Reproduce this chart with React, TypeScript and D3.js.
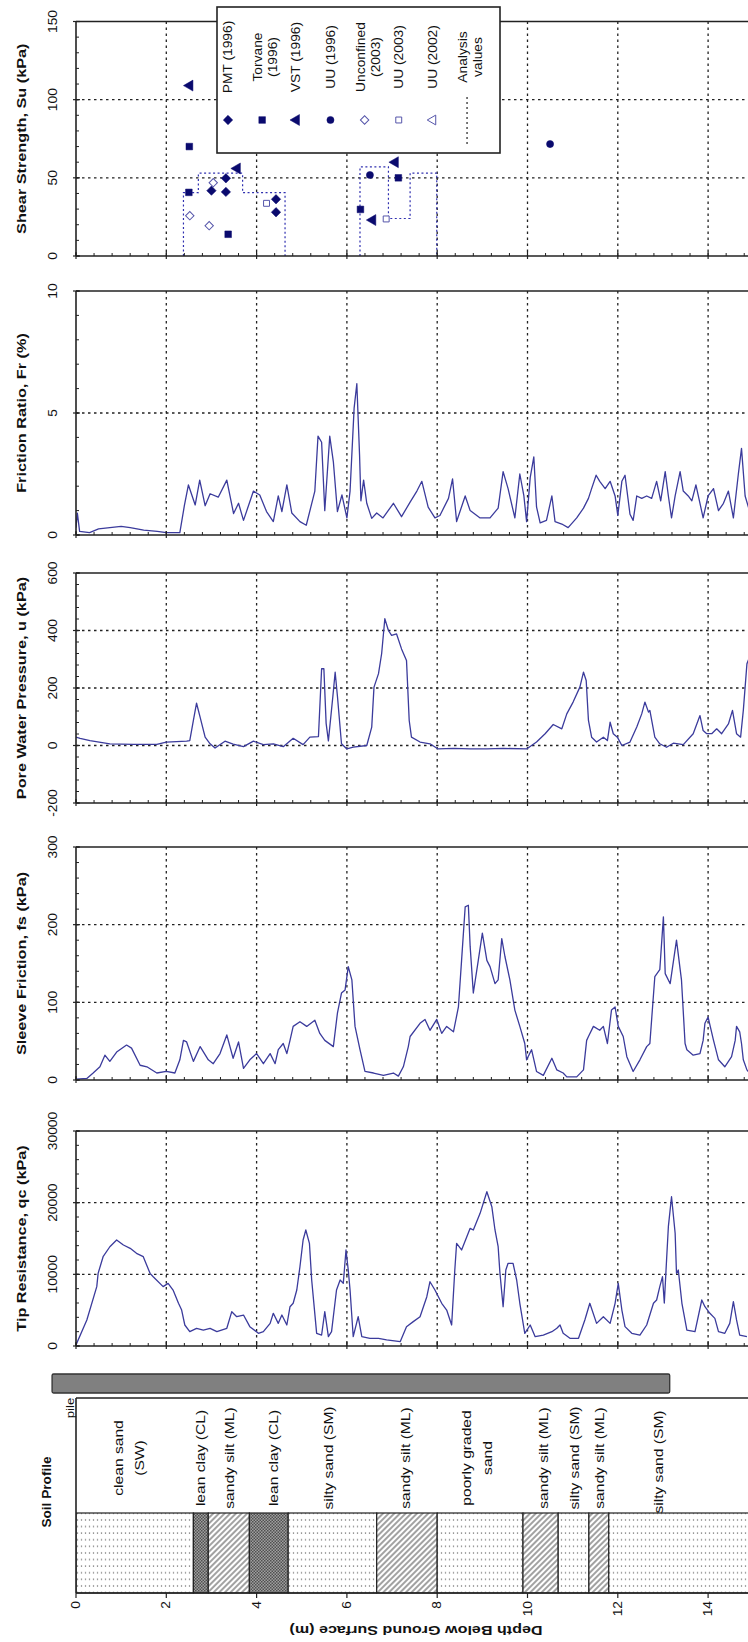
import React from 'react';
import * as d3 from 'd3';

// ---- data ----
const depthTicks = [0, 2, 4, 6, 8, 10, 12, 14];

const frictionRatio: [number, number][] = [
  [0, 0.3], [0.03, 0.9], [0.08, 0.15], [0.3, 0.1], [0.5, 0.25], [0.75, 0.3], [1.0, 0.35], [1.2, 0.3], [1.5, 0.2],
  [1.8, 0.15], [2.0, 0.1], [2.3, 0.1], [2.4, 1.2], [2.49, 2.05], [2.64, 1.23], [2.74, 2.25], [2.86, 1.2], [2.97, 1.69],
  [3.15, 1.55], [3.34, 2.25], [3.49, 0.88], [3.6, 1.3], [3.71, 0.6], [3.93, 1.8], [4.07, 1.64], [4.22, 0.96],
  [4.37, 0.55], [4.48, 1.6], [4.56, 0.96], [4.67, 2.05], [4.78, 0.9], [4.96, 0.55], [5.1, 0.4], [5.29, 1.8],
  [5.36, 4.05], [5.44, 3.8], [5.51, 1.0], [5.62, 4.05], [5.7, 3.0], [5.79, 0.96], [5.89, 1.64], [6.0, 0.7],
  [6.07, 1.8], [6.16, 5.2], [6.22, 6.2], [6.28, 3.3], [6.31, 1.4], [6.37, 2.25], [6.44, 1.3], [6.55, 0.68],
  [6.66, 0.9], [6.8, 0.7], [7.03, 1.3], [7.21, 0.75], [7.4, 1.35], [7.55, 1.8], [7.66, 2.2], [7.8, 1.14],
  [7.95, 0.7], [8.06, 0.8], [8.25, 1.5], [8.34, 2.3], [8.43, 0.55], [8.62, 1.6], [8.73, 1.0], [8.95, 0.7],
  [9.17, 0.7], [9.35, 1.1], [9.46, 2.6], [9.57, 1.9], [9.72, 0.7], [9.83, 2.5], [9.92, 1.6], [9.98, 0.55],
  [10.06, 2.35], [10.14, 3.2], [10.2, 1.15], [10.28, 0.5], [10.42, 0.6], [10.54, 1.6], [10.61, 0.55],
  [10.76, 0.45], [10.9, 0.3], [11.09, 0.7], [11.24, 1.1], [11.35, 1.5], [11.42, 1.9], [11.52, 2.45], [11.6, 2.2],
  [11.72, 1.9], [11.83, 2.2], [11.94, 1.6], [12.0, 0.8], [12.09, 2.2], [12.16, 2.45], [12.27, 0.85], [12.34, 0.6],
  [12.42, 1.6], [12.53, 1.5], [12.64, 1.6], [12.75, 1.5], [12.86, 2.2], [12.95, 1.4], [13.05, 2.6], [13.12, 1.6],
  [13.19, 0.7], [13.27, 1.6], [13.38, 2.6], [13.45, 1.8], [13.56, 1.6], [13.64, 1.4], [13.73, 2.05], [13.82, 1.3],
  [13.89, 0.7], [14.0, 1.6], [14.12, 1.9], [14.23, 1.0], [14.34, 1.3], [14.45, 1.8], [14.56, 0.7], [14.67, 2.5],
  [14.74, 3.55], [14.82, 1.6], [14.9, 1.1],
];

const porePressure: [number, number][] = [
  [0, 29], [0.09, 25], [0.31, 17], [0.75, 6], [1.27, 4], [1.79, 4], [2.0, 12], [2.45, 15], [2.52, 17], [2.6, 87],
  [2.67, 147], [2.75, 98], [2.86, 29], [2.97, 6], [3.08, -9], [3.3, 15], [3.48, 5], [3.71, -4], [3.93, 15], [4.15, 3],
  [4.37, 6], [4.59, -4], [4.81, 25], [5.03, 3], [5.18, 29], [5.37, 31], [5.44, 267], [5.49, 267], [5.54, 77],
  [5.59, 16], [5.69, 172], [5.74, 255], [5.79, 172], [5.88, 6], [6.0, -12], [6.14, -6], [6.44, 0], [6.55, 64],
  [6.6, 203], [6.7, 250], [6.77, 320], [6.84, 441], [6.92, 400], [6.99, 383], [7.1, 388], [7.21, 336], [7.32, 296],
  [7.38, 87], [7.43, 29], [7.62, 12], [7.84, 6], [8.02, -12], [8.36, -10], [8.73, -12], [9.1, -12], [9.46, -10],
  [9.98, -12], [10.2, 12], [10.39, 41], [10.57, 73], [10.76, 58], [10.87, 110], [11.01, 151], [11.16, 203],
  [11.24, 255], [11.3, 226], [11.35, 87], [11.42, 29], [11.53, 12], [11.68, 29], [11.77, 17], [11.83, 81],
  [11.9, 41], [11.99, 29], [12.09, 0], [12.27, 12], [12.42, 64], [12.53, 110], [12.6, 151], [12.68, 116],
  [12.71, 122], [12.82, 29], [12.93, 6], [13.08, -6], [13.23, 8], [13.45, 3], [13.67, 41], [13.82, 104],
  [13.89, 52], [13.97, 41], [14.08, 41], [14.19, 58], [14.3, 41], [14.45, 75], [14.54, 122], [14.63, 41],
  [14.72, 29], [14.78, 122], [14.86, 284], [14.9, 300],
];

const sleeveFriction: [number, number][] = [
  [0, 1], [0.24, 2], [0.38, 9], [0.53, 17], [0.64, 32], [0.75, 24], [0.9, 36], [1.12, 45], [1.23, 41], [1.42, 19],
  [1.57, 17], [1.79, 9], [2.0, 11], [2.19, 9], [2.3, 26], [2.38, 51], [2.45, 49], [2.6, 24], [2.75, 43], [2.93, 26],
  [3.04, 21], [3.19, 34], [3.34, 58], [3.48, 28], [3.6, 49], [3.71, 15], [3.85, 26], [4.0, 34], [4.15, 21],
  [4.3, 34], [4.41, 21], [4.48, 39], [4.59, 47], [4.67, 34], [4.74, 51], [4.81, 69], [4.96, 75], [5.11, 69],
  [5.29, 77], [5.4, 60], [5.51, 51], [5.7, 43], [5.79, 86], [5.88, 112], [5.96, 116], [6.03, 146], [6.11, 129],
  [6.18, 69], [6.29, 39], [6.4, 11], [6.59, 9], [6.81, 6], [7.03, 9], [7.14, 5], [7.25, 17], [7.36, 43], [7.4, 56],
  [7.62, 73], [7.73, 78], [7.84, 64], [7.99, 78], [8.1, 60], [8.21, 69], [8.36, 62], [8.47, 94], [8.54, 154],
  [8.62, 223], [8.69, 225], [8.73, 172], [8.8, 112], [8.91, 154], [9.0, 189], [9.1, 154], [9.17, 146], [9.28, 124],
  [9.35, 129], [9.43, 182], [9.5, 159], [9.61, 129], [9.72, 90], [9.83, 69], [9.94, 47], [9.98, 26], [10.09, 39],
  [10.2, 11], [10.35, 6], [10.54, 28], [10.65, 13], [10.79, 9], [10.87, 4], [11.09, 4], [11.24, 13], [11.31, 51],
  [11.35, 56], [11.46, 69], [11.6, 64], [11.68, 69], [11.77, 47], [11.86, 90], [11.94, 94], [12.01, 69],
  [12.12, 56], [12.2, 30], [12.34, 11], [12.49, 26], [12.64, 43], [12.71, 47], [12.82, 133], [12.93, 142],
  [13.01, 210], [13.05, 137], [13.16, 124], [13.3, 180], [13.41, 129], [13.49, 47], [13.53, 39], [13.67, 32],
  [13.82, 34], [13.89, 51], [13.93, 73], [14.0, 81], [14.12, 51], [14.23, 26], [14.37, 17], [14.52, 30],
  [14.6, 51], [14.63, 69], [14.7, 62], [14.74, 47], [14.78, 26], [14.86, 13], [14.9, 10],
];

const tipResistance: [number, number][] = [
  [0, 140], [0.24, 3630], [0.46, 8280], [0.49, 10140], [0.6, 12460], [0.75, 13850], [0.9, 14790], [1.05, 14090],
  [1.2, 13630], [1.34, 12930], [1.49, 12460], [1.64, 10140], [1.71, 9670], [1.93, 8280], [2.04, 8740], [2.15, 7810],
  [2.27, 5960], [2.34, 5020], [2.41, 2930], [2.52, 2000], [2.67, 2470], [2.82, 2230], [2.97, 2470], [3.12, 2000],
  [3.34, 2470], [3.45, 4790], [3.56, 4090], [3.71, 4320], [3.85, 2700], [4.04, 1770], [4.15, 2000], [4.3, 3160],
  [4.37, 4560], [4.48, 3160], [4.56, 4320], [4.67, 2930], [4.74, 5480], [4.81, 5960], [4.89, 7810], [4.96, 11060],
  [5.03, 14790], [5.09, 16190], [5.17, 14330], [5.22, 9210], [5.33, 1770], [5.44, 1530], [5.51, 4790], [5.59, 1300],
  [5.66, 2000], [5.77, 7810], [5.85, 9210], [5.92, 8740], [5.98, 13400], [6.03, 10600], [6.07, 7810], [6.14, 1300],
  [6.25, 4090], [6.33, 1300], [6.51, 1070], [6.7, 1070], [6.88, 840], [7.18, 600], [7.32, 2700], [7.47, 3400],
  [7.62, 4090], [7.77, 6880], [7.84, 8970], [7.95, 7810], [8.1, 5960], [8.21, 5020], [8.32, 2930], [8.39, 10600],
  [8.43, 14330], [8.54, 13400], [8.73, 16420], [8.8, 16190], [8.95, 18510], [9.1, 21530], [9.21, 19440],
  [9.28, 16190], [9.35, 13860], [9.39, 10140], [9.46, 5480], [9.52, 10600], [9.57, 11540], [9.68, 11540],
  [9.76, 9210], [9.83, 5960], [9.94, 1770], [10.06, 2930], [10.17, 1300], [10.35, 1530], [10.54, 2000],
  [10.65, 2470], [10.72, 2930], [10.79, 1770], [10.94, 1070], [11.13, 1070], [11.27, 3630], [11.38, 5960],
  [11.53, 3160], [11.68, 4090], [11.83, 3160], [11.94, 5960], [12.01, 8740], [12.09, 5020], [12.16, 2700],
  [12.31, 1770], [12.49, 1530], [12.64, 2930], [12.79, 5960], [12.86, 6420], [12.93, 8280], [12.99, 9670],
  [13.03, 6000], [13.08, 12000], [13.12, 16650], [13.19, 20830], [13.27, 15730], [13.3, 10140], [13.34, 10600],
  [13.42, 5960], [13.53, 2230], [13.71, 2000], [13.86, 6420], [13.93, 5480], [14.04, 4560], [14.15, 3860],
  [14.23, 2000], [14.37, 1770], [14.48, 3160], [14.56, 6190], [14.63, 3630], [14.7, 1530], [14.86, 1300],
];

// shear strength tests: [depth, Su]
const pmt1996: [number, number][] = [[3.0, 41.8], [3.32, 49.7], [3.32, 41], [4.43, 36.3], [4.43, 28]];
const torvane1996: [number, number][] = [[2.51, 70], [2.5, 40.7], [3.37, 13.9], [6.3, 29.8], [7.14, 50]];
const vst1996: [number, number][] = [[2.52, 109], [3.57, 56], [6.57, 23], [7.07, 60]];
const uu1996: [number, number][] = [[6.51, 51.8], [10.5, 71.6]];
const unconfined2003: [number, number][] = [[2.52, 25.8], [2.95, 19.4], [3.04, 46.9]];
const uu2003: [number, number][] = [[4.22, 33.7], [6.87, 23.7]];
const uu2002: [number, number][] = [];
const analysisA: [number, number][] = [[2.38, 0], [2.38, 40.5], [2.71, 40.5], [2.71, 53], [3.69, 53], [3.69, 40.5], [4.63, 40.5], [4.63, 0]];
const analysisB: [number, number][] = [[6.29, 0], [6.29, 57], [6.92, 57], [6.92, 24], [7.4, 24], [7.4, 53], [7.99, 53], [7.99, 0]];

const legendLabels = [['PMT (1996)'], ['Torvane', '(1996)'], ['VST (1996)'], ['UU (1996)'], ['Unconfined', '(2003)'], ['UU (2003)'], ['UU (2002)'], ['Analysis', 'values']];
const legendSymbols = ['diamond', 'square', 'triangle', 'circle', 'odiamond', 'osquare', 'otriangle', 'line'];

const soilTops = [0, 2.6, 2.93, 3.84, 4.7, 6.66, 8.0, 9.9, 10.68, 11.36, 11.8];
const soilBottoms = [2.6, 2.93, 3.84, 4.7, 6.66, 8.0, 9.9, 10.68, 11.36, 11.8, 16];
const soilTypes = ['sand', 'clay', 'silt', 'clay', 'sand', 'silt', 'sand', 'silt', 'sand', 'silt', 'sand'];
const soilLabels = [['clean sand', '(SW)'], ['lean clay (CL)'], ['sandy silt (ML)'], ['lean clay (CL)'], ['silty sand (SM)'], ['sandy silt (ML)'], ['poorly graded', 'sand'], ['sandy silt (ML)'], ['silty sand (SM)'], ['sandy silt (ML)'], ['silty sand (SM)']];
const soilLabelDepths = [1.17, 2.75, 3.4, 4.37, 5.6, 7.3, 8.88, 10.35, 11.05, 11.6, 12.9];
const pileRange = [-0.53, 13.15];

// ---- layout ----
const W = 748;
const H = 1642;
const FONT = '"Liberation Sans", Arial, sans-serif';
const BLUE = '#3b3b9c';
const NAVY = '#0a0a6e';

const panels = [
  { title: 'Shear Strength, Su (kPa)', domain: [0, 150], top: 21.5, bottom: 256, major: 50, minor: 10, data: null },
  { title: 'Friction Ratio, Fr (%)', domain: [0, 10], top: 291, bottom: 535, major: 5, minor: 1, data: frictionRatio },
  { title: 'Pore Water Pressure, u (kPa)', domain: [-200, 600], top: 573, bottom: 803, major: 200, minor: 40, data: porePressure },
  { title: 'Sleeve Friction, fs (kPa)', domain: [0, 300], top: 847, bottom: 1080, major: 100, minor: 20, data: sleeveFriction },
  { title: 'Tip Resistance, qc (kPa)', domain: [0, 30000], top: 1131, bottom: 1346, major: 10000, minor: 2000, data: tipResistance },
];

const x = d3.scaleLinear().domain([0, 16]).range([76, 76 + 16 * 45.15]);
const X0 = x(0);

const VText = ({ x: tx, y: ty, size = 12, bold = false, anchor = 'middle', sx = 1.2, children }: any) => (
  <text
    transform={`translate(${tx},${ty}) rotate(-90) scale(${sx},1)`}
    textAnchor={anchor}
    dominantBaseline="central"
    fontSize={size}
    fontWeight={bold ? 'bold' : 'normal'}
    fontFamily={FONT}
    fill="#111"
  >
    {children}
  </text>
);

const symbolPath = (kind: string, size: number) => {
  if (kind.includes('diamond')) return d3.symbol(d3.symbolSquare, size)()!;
  if (kind.includes('square')) return d3.symbol(d3.symbolSquare, size)()!;
  if (kind.includes('triangle')) return d3.symbol(d3.symbolTriangle, size)()!;
  return d3.symbol(d3.symbolCircle, size)()!;
};

const Marker = ({ kind, cx, cy }: { kind: string; cx: number; cy: number }) => {
  const open = kind.startsWith('o');
  const rot = kind.includes('diamond') ? 45 : kind.includes('triangle') ? -90 : 0;
  const size = kind.includes('circle') ? 40 : kind.includes('triangle') ? 52 : 44;
  return (
    <path
      d={symbolPath(kind, open ? size * 0.8 : size)}
      transform={`translate(${cx},${cy}) rotate(${rot})`}
      fill={open ? 'white' : NAVY}
      stroke={open ? '#5555aa' : NAVY}
      strokeWidth={open ? 1 : 0.5}
    />
  );
};

const Panel = ({ p, idx }: { p: any; idx: number }) => {
  const y = d3.scaleLinear().domain(p.domain).range([p.bottom, p.top]);
  const majors = d3.range(p.domain[0], p.domain[1] + 1e-9, p.major);
  const minors = d3.range(p.domain[0], p.domain[1] + 1e-9, p.minor);
  const line = d3.line<[number, number]>().x((d) => x(d[0])).y((d) => y(d[1]));
  const depthMinor = d3.range(0, 16.01, 0.4);
  return (
    <g>
      <clipPath id={`clip${idx}`}>
        <rect x={X0} y={p.top - 2} width={W - X0} height={p.bottom - p.top + 4} />
      </clipPath>
      {/* grid */}
      {majors.filter((v) => v !== p.domain[0] && v !== p.domain[1]).map((v) => (
        <line key={'h' + v} x1={X0} x2={W} y1={y(v)} y2={y(v)} stroke="#222" strokeWidth={1.3} strokeDasharray="2.5,3.5" />
      ))}
      {depthTicks.filter((d) => d > 0).map((d) => (
        <line key={'v' + d} x1={x(d)} x2={x(d)} y1={p.top} y2={p.bottom} stroke="#222" strokeWidth={1.3} strokeDasharray="2.5,3.5" />
      ))}
      {/* data */}
      {p.data && (
        <path d={line(p.data)!} fill="none" stroke={BLUE} strokeWidth={1.3} strokeLinejoin="round" clipPath={`url(#clip${idx})`} />
      )}
      {idx === 0 && (
        <g>
          {[analysisA, analysisB].map((s, i) => (
            <path key={i} d={line(s)!} fill="none" stroke="#3030b0" strokeWidth={1.2} strokeDasharray="2,2.5" />
          ))}
          {pmt1996.map((d, i) => <Marker key={'a' + i} kind="diamond" cx={x(d[0])} cy={y(d[1])} />)}
          {torvane1996.map((d, i) => <Marker key={'b' + i} kind="square" cx={x(d[0])} cy={y(d[1])} />)}
          {vst1996.map((d, i) => <Marker key={'c' + i} kind="triangle" cx={x(d[0])} cy={y(d[1])} />)}
          {uu1996.map((d, i) => <Marker key={'d' + i} kind="circle" cx={x(d[0])} cy={y(d[1])} />)}
          {unconfined2003.map((d, i) => <Marker key={'e' + i} kind="odiamond" cx={x(d[0])} cy={y(d[1])} />)}
          {uu2003.map((d, i) => <Marker key={'f' + i} kind="osquare" cx={x(d[0])} cy={y(d[1])} />)}
          {uu2002.map((d, i) => <Marker key={'g' + i} kind="otriangle" cx={x(d[0])} cy={y(d[1])} />)}
        </g>
      )}
      {/* axes */}
      <line x1={X0} x2={W} y1={p.top} y2={p.top} stroke="#222" strokeWidth={1.6} />
      <line x1={X0} x2={W} y1={p.bottom} y2={p.bottom} stroke="#222" strokeWidth={1.6} />
      <line x1={X0} x2={X0} y1={p.top} y2={p.bottom} stroke="#222" strokeWidth={1.6} />
      {minors.map((v) => (
        <line key={'mt' + v} x1={X0} x2={X0 + 3} y1={y(v)} y2={y(v)} stroke="#222" strokeWidth={1} />
      ))}
      {majors.map((v) => (
        <line key={'Mt' + v} x1={X0 - 3} x2={X0 + 4} y1={y(v)} y2={y(v)} stroke="#222" strokeWidth={1.2} />
      ))}
      {depthMinor.map((d) => (
        <line key={'dt' + d} x1={x(d)} x2={x(d)} y1={p.bottom} y2={p.bottom - 3} stroke="#222" strokeWidth={1} />
      ))}
      {depthTicks.map((d) => (
        <line key={'Dt' + d} x1={x(d)} x2={x(d)} y1={p.bottom + 3} y2={p.bottom - 4} stroke="#222" strokeWidth={1.2} />
      ))}
      {majors.map((v) => (
        <VText key={'lb' + v} x={53} y={y(v)} size={12} sx={1.15}>{v}</VText>
      ))}
      <VText x={22} y={(p.top + p.bottom) / 2} size={13} bold sx={1.25}>{p.title}</VText>
    </g>
  );
};

const Legend = () => {
  const mx = (i: number) => 228 + i * 34.15;
  return (
    <g>
      <rect x={217} y={7} width={283} height={146} fill="white" stroke="#222" strokeWidth={1.6} />
      {legendLabels.map((lines, i) => (
        <g key={i}>
          {lines.length === 1 ? (
            <VText x={mx(i)} y={57} size={12} sx={1.15}>{lines[0]}</VText>
          ) : (
            lines.map((t, j) => (
              <VText key={j} x={mx(i) - 4 + j * 15} y={57} size={12} sx={1.15}>{t}</VText>
            ))
          )}
          {legendSymbols[i] === 'line' ? (
            <line x1={mx(i)} x2={mx(i)} y1={97} y2={145} stroke="#333" strokeWidth={1.3} strokeDasharray="2,3" />
          ) : (
            <Marker kind={legendSymbols[i]} cx={mx(i)} cy={120} />
          )}
        </g>
      ))}
    </g>
  );
};

const SoilProfile = () => {
  const top = 1398;
  const rTop = 1513;
  const bottom = 1593;
  return (
    <g>
      <defs>
        <pattern id="sand" width="4" height="6.6" patternUnits="userSpaceOnUse">
          <rect width="4" height="6.6" fill="white" />
          <circle cx="1.5" cy="2" r="0.75" fill="#7a7a7a" />
        </pattern>
        <pattern id="silt" width="4" height="4" patternUnits="userSpaceOnUse" patternTransform="rotate(45)">
          <rect width="4" height="4" fill="white" />
          <line x1="1" y1="0" x2="1" y2="4" stroke="#555" strokeWidth="1.1" />
        </pattern>
        <pattern id="clay" width="3" height="3" patternUnits="userSpaceOnUse">
          <rect width="3" height="3" fill="#a0a0a0" />
          <rect width="1.5" height="1.5" fill="#505050" />
          <rect x="1.5" y="1.5" width="1.5" height="1.5" fill="#505050" />
        </pattern>
        <clipPath id="soilclip">
          <rect x={X0} y={top - 2} width={W - X0} height={bottom - top + 4} />
        </clipPath>
      </defs>
      {/* pile */}
      <rect x={x(pileRange[0])} y={1374} width={x(pileRange[1]) - x(pileRange[0])} height={19} fill="#808080" stroke="#333" strokeWidth={1.3} rx={1.5} />
      <g clipPath="url(#soilclip)">
        {soilTops.map((t, i) => (
          <rect key={i} x={x(t)} y={rTop} width={x(soilBottoms[i]) - x(t)} height={bottom - rTop} fill={`url(#${soilTypes[i]})`} stroke="#222" strokeWidth={1.2} />
        ))}
      </g>
      <line x1={X0} x2={W} y1={top} y2={top} stroke="#222" strokeWidth={1.6} />
      <line x1={X0} x2={X0} y1={top} y2={bottom} stroke="#222" strokeWidth={1.6} />
      <line x1={X0} x2={W} y1={bottom} y2={bottom} stroke="#222" strokeWidth={1.6} />
      {depthTicks.map((d) => (
        <line key={d} x1={x(d)} x2={x(d)} y1={bottom} y2={bottom + 5} stroke="#222" strokeWidth={1.2} />
      ))}
      {soilLabels.map((lines, i) => (
        <g key={i}>
          {lines.map((t, j) => (
            <VText key={j} x={x(soilLabelDepths[i]) + (j - (lines.length - 1) / 2) * 21} y={i === 10 ? 1462 : 1458} size={12.5} sx={1.25}>{t}</VText>
          ))}
        </g>
      ))}
      <VText x={70} y={1408} size={11.5} sx={1.15}>pile</VText>
      <VText x={47} y={1492} size={13} bold sx={1.05}>Soil Profile</VText>
      {depthTicks.map((d) => (
        <VText key={'t' + d} x={x(d)} y={1601} size={12} sx={1.15} anchor="end">{d}</VText>
      ))}
      <text
        transform={`translate(${416},${1630}) rotate(180)`}
        textAnchor="middle"
        dominantBaseline="central"
        fontSize={13}
        fontWeight="bold"
        fontFamily={FONT}
        textLength={253}
        lengthAdjust="spacingAndGlyphs"
        fill="#111"
      >
        Depth Below Ground Surface (m)
      </text>
    </g>
  );
};

export default function App() {
  return (
    <div>
      <style>{`body{margin:0}`}</style>
      <svg width={W} height={H} style={{ display: 'block', background: 'white' }}>
        {panels.map((p, i) => (
          <Panel key={i} p={p} idx={i} />
        ))}
        <Legend />
        <SoilProfile />
      </svg>
    </div>
  );
}
